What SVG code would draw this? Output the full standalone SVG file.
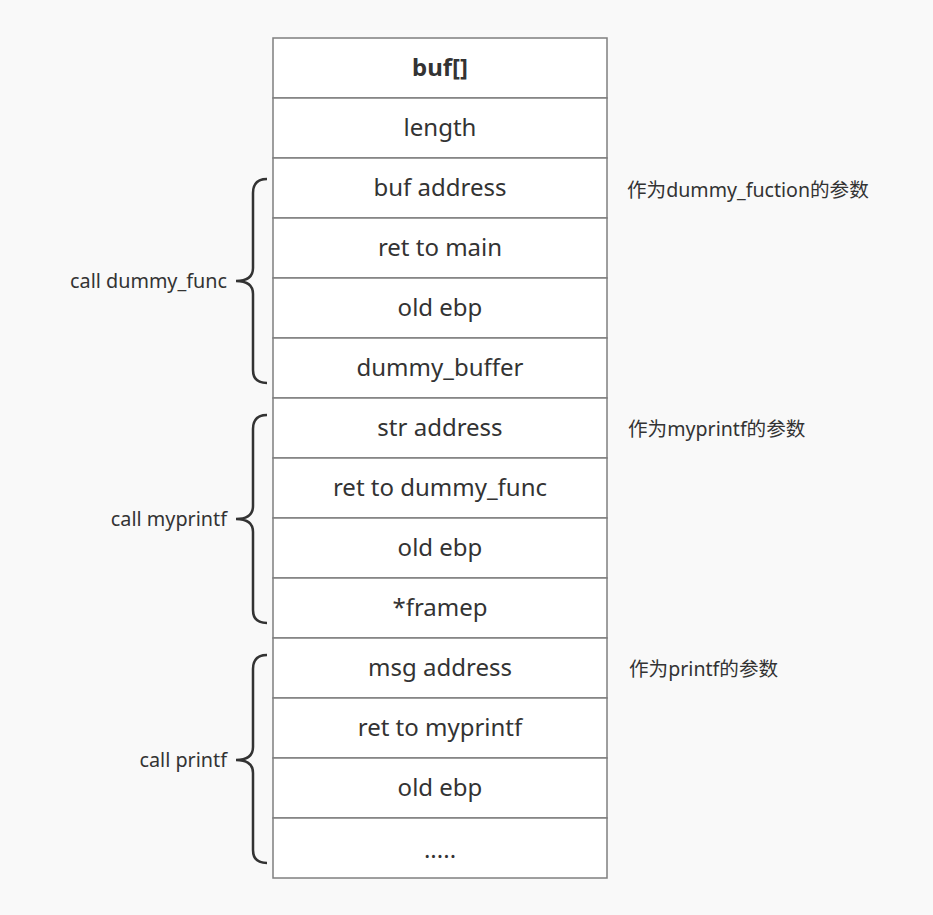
<svg xmlns="http://www.w3.org/2000/svg" width="933" height="915" viewBox="0 0 933 915">
<style>
.cell{fill:#ffffff;stroke:#7f7f7f;stroke-width:1.5}
.t{font-family:"Noto Sans","Open Sans","Liberation Sans",sans-serif;font-size:24px;fill:#333;text-anchor:middle}
.b{font-weight:bold}
.lab{font-family:"Noto Sans","Open Sans","Liberation Sans",sans-serif;font-size:19.8px;fill:#333;text-anchor:end}
.note{font-family:"Noto Sans","Noto Sans CJK SC",sans-serif;font-size:19.6px;fill:#333}
.brace{fill:none;stroke:#333;stroke-width:2.5}
</style>
<rect x="0" y="0" width="933" height="915" fill="#f9f9f9"/>
<g id="stack">
<g id="n1"><rect class="cell" x="273" y="38" width="334" height="60"/><text class="t b" x="440" y="76">buf[]</text></g>
<g id="n2"><rect class="cell" x="273" y="98" width="334" height="60"/><text class="t" x="440" y="136">length</text></g>
<g id="n3"><rect class="cell" x="273" y="158" width="334" height="60"/><text class="t" x="440" y="196">buf address</text></g>
<g id="n4"><rect class="cell" x="273" y="218" width="334" height="60"/><text class="t" x="440" y="256">ret to main</text></g>
<g id="n5"><rect class="cell" x="273" y="278" width="334" height="60"/><text class="t" x="440" y="316">old ebp</text></g>
<g id="n6"><rect class="cell" x="273" y="338" width="334" height="60"/><text class="t" x="440" y="376">dummy_buffer</text></g>
<g id="n7"><rect class="cell" x="273" y="398" width="334" height="60"/><text class="t" x="440" y="436">str address</text></g>
<g id="n8"><rect class="cell" x="273" y="458" width="334" height="60"/><text class="t" x="440" y="496">ret to dummy_func</text></g>
<g id="n9"><rect class="cell" x="273" y="518" width="334" height="60"/><text class="t" x="440" y="556">old ebp</text></g>
<g id="n10"><rect class="cell" x="273" y="578" width="334" height="60"/><text class="t" x="440" y="616">*framep</text></g>
<g id="n11"><rect class="cell" x="273" y="638" width="334" height="60"/><text class="t" x="440" y="676">msg address</text></g>
<g id="n12"><rect class="cell" x="273" y="698" width="334" height="60"/><text class="t" x="440" y="736">ret to myprintf</text></g>
<g id="n13"><rect class="cell" x="273" y="758" width="334" height="60"/><text class="t" x="440" y="796">old ebp</text></g>
<g id="n14"><rect class="cell" x="273" y="818" width="334" height="60"/><text class="t" x="440" y="858">.....</text></g>
</g>
<g id="braces">
<path class="brace" d="M267,179 Q253,179 253,193 L253,268 Q253,281 236,281 Q253,281 253,294 L253,370 Q253,383 267,383"/>
<path class="brace" d="M267,415 Q253,415 253,429 L253,506 Q253,519 236,519 Q253,519 253,532 L253,610 Q253,623 267,623"/>
<path class="brace" d="M267,655 Q253,655 253,669 L253,747 Q253,760 236,760 Q253,760 253,773 L253,850 Q253,863 267,863"/>
</g>
<g id="labels">
<text class="lab" x="227" y="288">call dummy_func</text>
<text class="lab" x="227" y="526">call myprintf</text>
<text class="lab" x="227" y="767">call printf</text>
<text class="note" x="627" y="197">作为dummy_fuction的参数</text>
<text class="note" x="628" y="436">作为myprintf的参数</text>
<text class="note" x="629" y="676">作为printf的参数</text>
</g>
</svg>
